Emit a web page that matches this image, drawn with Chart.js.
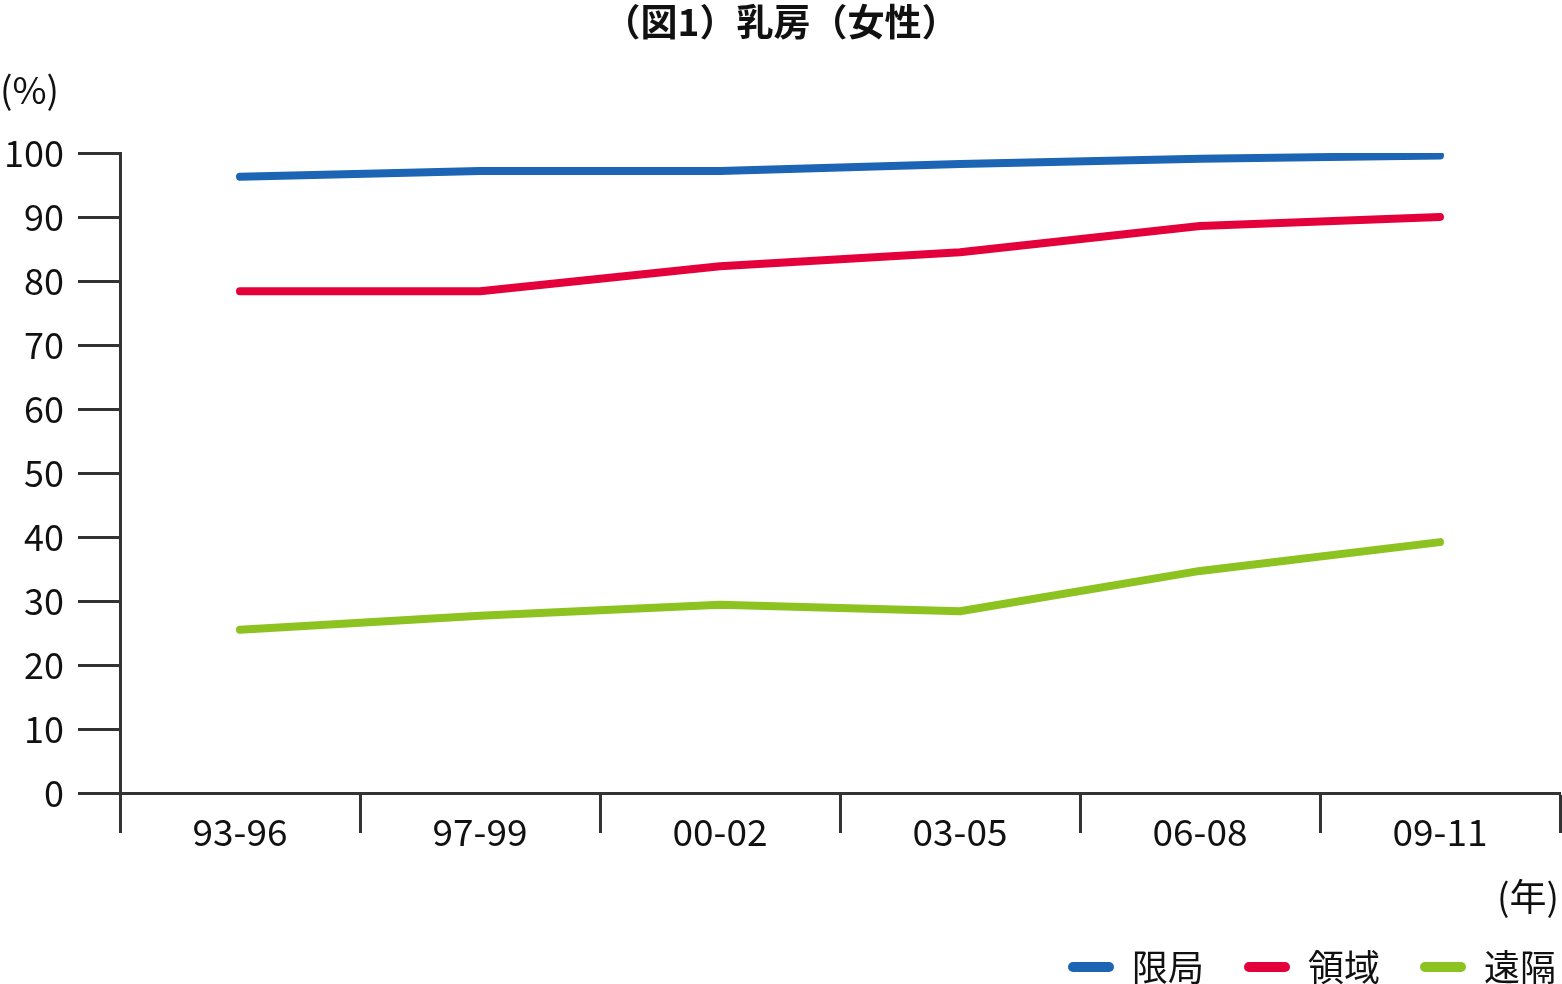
<!DOCTYPE html>
<html>
<head>
<meta charset="utf-8">
<script src="https://cdn.jsdelivr.net/npm/chart.js@4.4.1/dist/chart.umd.min.js"></script>
<style>
  html, body { margin: 0; padding: 0; background: #fff; }
  #wrap { width: 1562px; height: 984px; }
</style>
</head>
<body>
<div id="wrap"><canvas id="myChart"></canvas></div>
<script>
var periods = ["93-96", "97-99", "00-02", "03-05", "06-08", "09-11"];
var localValues = [96.3, 97.2, 97.2, 98.3, 99.1, 99.6];
var regionalValues = [78.4, 78.4, 82.3, 84.5, 88.6, 90.0];
var distantValues = [25.5, 27.7, 29.4, 28.4, 34.7, 39.2];
var seriesNames = ["限局", "領域", "遠隔"];
var seriesColors = ["#1c64b4", "#e4003a", "#8cc320"];

var fontFamily = "'Noto Sans CJK JP', 'Noto Sans', sans-serif";
var axisColor = "#333333";

// title and unit labels
var extraText = {
  id: "extraText",
  afterDraw: function (chart) {
    var ctx = chart.ctx;
    ctx.save();
    ctx.fillStyle = "#111";
    ctx.textBaseline = "middle";
    ctx.font = "bold 37px " + fontFamily;
    ctx.textAlign = "center";
    ctx.fillText("（図1）乳房（女性）", 781, 22);
    ctx.font = "37px " + fontFamily;
    ctx.textAlign = "left";
    ctx.fillText("(%)", 0, 90);
    ctx.textAlign = "right";
    ctx.fillText("(年)", 1559, 897);
    ctx.restore();
  }
};

function makeSet(i, values) {
  return {
    label: seriesNames[i],
    data: values,
    borderColor: seriesColors[i],
    backgroundColor: seriesColors[i],
    borderWidth: 8,
    borderCapStyle: "round",
    borderJoinStyle: "round",
    pointRadius: 0,
    tension: 0
  };
}

new Chart("myChart", {
  type: "line",
  data: {
    labels: periods,
    datasets: [
      makeSet(0, localValues),
      makeSet(1, regionalValues),
      makeSet(2, distantValues)
    ]
  },
  options: {
    responsive: true,
    maintainAspectRatio: false,
    animation: false,
    layout: { padding: { top: 153, right: 2, left: 0, bottom: -11 } },
    plugins: {
      title: { display: false },
      tooltip: { enabled: false },
      legend: {
        position: "bottom",
        align: "end",
        labels: {
          color: "#111",
          font: { family: fontFamily, size: 36 },
          boxWidth: 46,
          boxHeight: 10,
          useBorderRadius: true,
          borderRadius: 5,
          padding: 4,
          generateLabels: function (chart) {
            var items = Chart.defaults.plugins.legend.labels.generateLabels(chart);
            items.forEach(function (item, i) {
              item.lineWidth = 0;
              if (i < items.length - 1) item.text = item.text + "　";
            });
            return items;
          }
        }
      }
    },
    scales: {
      x: {
        offset: true,
        border: { color: axisColor, width: 3 },
        grid: {
          offset: true,
          drawOnChartArea: false,
          drawTicks: true,
          tickLength: 40,
          tickColor: axisColor,
          tickWidth: 3
        },
        ticks: {
          color: "#111",
          font: { family: fontFamily, size: 37 },
          padding: -23,
          maxRotation: 0
        },
        afterFit: function (scale) { scale.height = 152; }
      },
      y: {
        min: 0,
        max: 100,
        border: { color: axisColor, width: 3 },
        grid: {
          drawOnChartArea: false,
          drawTicks: true,
          tickLength: 42,
          tickColor: axisColor,
          tickWidth: 3
        },
        ticks: {
          stepSize: 10,
          color: "#111",
          font: { family: fontFamily, size: 36 },
          padding: 14
        },
        afterFit: function (scale) { scale.width = 120; }
      }
    }
  },
  plugins: [extraText]
});
</script>
</body>
</html>
